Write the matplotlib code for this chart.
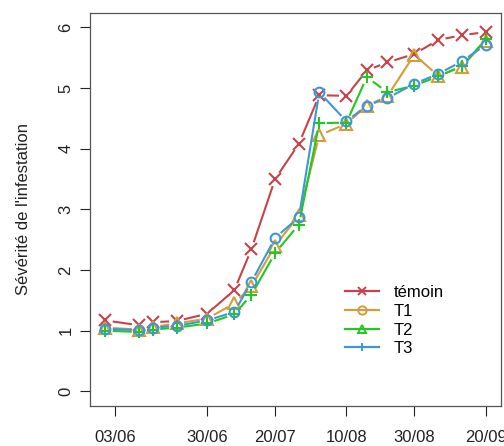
import matplotlib

matplotlib.use("Agg")
import matplotlib.pyplot as plt
from matplotlib.lines import Line2D
import numpy as np

plt.rcParams["font.family"] = ["Liberation Sans", "DejaVu Sans"]

# sampling dates, in days after 03/06
days = [-3, 7, 11, 18, 27, 35, 40, 47, 54, 60, 68, 74, 80, 88, 95, 102, 109]
temoin = [1.17, 1.09, 1.14, 1.16, 1.28, 1.67, 2.34, 3.50, 4.08, 4.88, 4.87,
          5.29, 5.42, 5.56, 5.79, 5.87, 5.92]
t1 = [1.05, 1.02, 1.06, 1.12, 1.20, 1.45, 1.73, 2.40, 2.90, 4.22, 4.41,
      4.71, 4.86, 5.55, 5.20, 5.35, 5.78]
t2 = [1.00, 0.98, 1.02, 1.05, 1.12, 1.27, 1.59, 2.28, 2.75, 4.42, 4.43,
      5.18, 4.93, 5.04, 5.19, 5.36, 5.80]
t3 = [1.03, 1.01, 1.05, 1.08, 1.17, 1.31, 1.80, 2.53, 2.87, 4.93, 4.45,
      4.71, 4.83, 5.07, 5.23, 5.44, 5.71]

tick_days = [0, 27, 47, 68, 88, 109]
tick_labels = ["03/06", "30/06", "20/07", "10/08", "30/08", "20/09"]

series = [
    ("témoin", temoin, "#C9424B", "x", "x"),
    ("T1", t1, "#D49C3A", "^", "o"),
    ("T2", t2, "#20C820", "+", "^"),
    ("T3", t3, "#3A98DA", "o", "+"),
]

W, H = 504, 446
fig = plt.figure(figsize=(W / 100, H / 100), dpi=100)
ax = fig.add_axes([90 / W, (H - 406) / H, (501 - 90) / W, (406 - 12.7) / H])
ax.set_xlim(-7.5, 113.5)
ax.set_ylim(-0.24, 6.24)

fig.canvas.draw()
gap = 7.5  # pixels, lines stop short of the points like R type="b"
inv = ax.transData.inverted()

for name, vals, col, mk, _ in series:
    pts = ax.transData.transform(np.column_stack([days, vals]))
    for (p, q) in zip(pts[:-1], pts[1:]):
        d = q - p
        L = np.hypot(*d)
        if L <= 2 * gap + 1:
            continue
        u = d / L
        a = inv.transform(p + u * gap)
        b = inv.transform(q - u * gap)
        ax.plot([a[0], b[0]], [a[1], b[1]], color=col, lw=1.5,
                solid_capstyle="butt")
    ax.plot(days, vals, ls="none", marker=mk, ms=8 if mk != "o" else 7,
            mfc="none", mec=col, mew=1.5)

ax.set_xticks(tick_days)
ax.set_xticklabels(tick_labels)
ax.set_yticks(range(7))
ax.tick_params(axis="x", length=7, width=0.8, pad=10, labelsize=12,
               colors="#222222")
ax.tick_params(axis="y", length=7, width=0.8, pad=5, labelsize=12,
               colors="#222222", labelrotation=90)
for lab in ax.get_yticklabels():
    lab.set_va("center")
for s in ax.spines.values():
    s.set_color("#555555")
    s.set_linewidth(0.9)

ax.set_ylabel("Sévérité de l'infestation", fontsize=12, labelpad=20,
              color="#222222")

handles = [Line2D([], [], color=col, lw=1.6, marker=lm, ms=6, mfc="none",
                  mec=col, mew=1.4) for _, _, col, _, lm in series]
ax.legend(handles, [s[0] for s in series], loc="upper left",
          bbox_to_anchor=(0.585, 0.345), frameon=False, fontsize=12,
          handlelength=2.0, handletextpad=0.9, labelspacing=0.22)

fig.savefig("out.png", dpi=100)
